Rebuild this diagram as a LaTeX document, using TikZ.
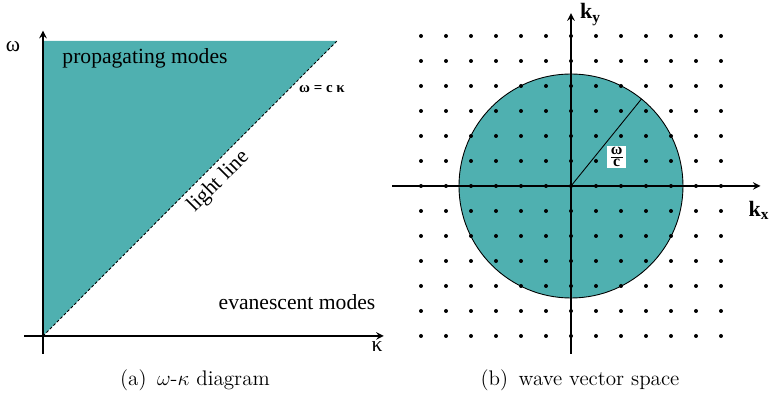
\documentclass[tikz,border=0pt]{standalone}
\usepackage{fontspec}
\setmainfont{Liberation Serif}
\usetikzlibrary{calc}
\definecolor{modeteal}{RGB}{79,176,176}
\newcommand{\capfont}{\fontfamily{lmr}\selectfont\fontsize{12}{14}\selectfont}
\tikzset{
  axis/.style={->, line width=0.9pt},
  lbl/.style={font=\fontsize{12.3}{14}\selectfont, inner sep=0pt},
  kbold/.style={font=\fontsize{12.5}{14}\selectfont\bfseries, inner sep=0pt},
}
\begin{document}
\begin{tikzpicture}[x=0.5cm, y=0.5cm, >=stealth]
    \useasboundingbox (0,0) rectangle (30.8,15.88);
    % (a) 色散图
    \coordinate (O) at (1.72,2.44);
    \coordinate (wtop) at (1.72,14.24);
    \coordinate (ltop) at (13.48,14.24);
    \coordinate (wbot) at (1.72,1.72);
    \coordinate (wtip) at (1.72,14.65);
    \coordinate (kleft) at (0.96,2.44);
    \coordinate (kright) at (15.35,2.44);
    \fill[modeteal] (O) -- (wtop) -- (ltop) -- cycle;
    \draw[dash pattern=on 1.6pt off 1.2pt, line width=0.5pt] (O) -- (ltop)
        node[pos=0.56, sloped, below, lbl, inner sep=3pt] (llab) {light line};
    \draw[axis] (kleft) -- (kright);
    \draw[axis] (wbot) -- (wtip);
    % 标注
    \node[lbl] (wlab) at (0.52,14.0) {ω};
    \node[lbl] (klab) at (15.08,2.0) {κ};
    \node[lbl] (prop) at (5.8,13.56) {propagating modes};
    \node[lbl] (evan) at (11.88,3.8) {evanescent modes};
    \node[font=\fontsize{8.5}{9}\selectfont\bfseries, inner sep=0pt] (disp) at (12.88,12.32) {ω = c κ};
    \node[font=\capfont] (capa) at (7.8,0.68) {(a)\enspace$\omega$-$\kappa$ diagram};
    % (b) 波矢空间
    \coordinate (C) at (22.84,8.44);
    \coordinate (xl) at (15.68,8.44);
    \coordinate (xr) at (30.42,8.44);
    \coordinate (yb) at (22.84,1.72);
    \coordinate (yt) at (22.84,15.35);
    \filldraw[fill=modeteal, line width=0.5pt] (C) circle (4.48);
    % 格点
    \foreach \i in {-6,...,6}
        \foreach \j in {-6,...,6}
            \fill ($(C)+(\i,\j)$) circle (0.08);
    \draw[axis] (xl) -- (xr);
    \draw[axis] (yb) -- (yt);
    \coordinate (R) at ($(C)+(51:4.48)$);
    \draw[line width=0.5pt] (C) -- (R);
    \node[fill=white, inner sep=1pt, font=\fontsize{9}{10}\selectfont\bfseries] (wc) at (24.67,9.6)
        {$\frac{\hbox{\bfseries ω}}{\hbox{\bfseries c}}$};
    \node[kbold] (kx) at (30.36,7.48) {k\textsubscript{x}};
    \node[kbold] (ky) at (23.62,15.3) {k\textsubscript{y}};
    \node[font=\capfont] (capb) at (23.2,0.68) {(b)\enspace wave vector space};
\end{tikzpicture}
\end{document}
